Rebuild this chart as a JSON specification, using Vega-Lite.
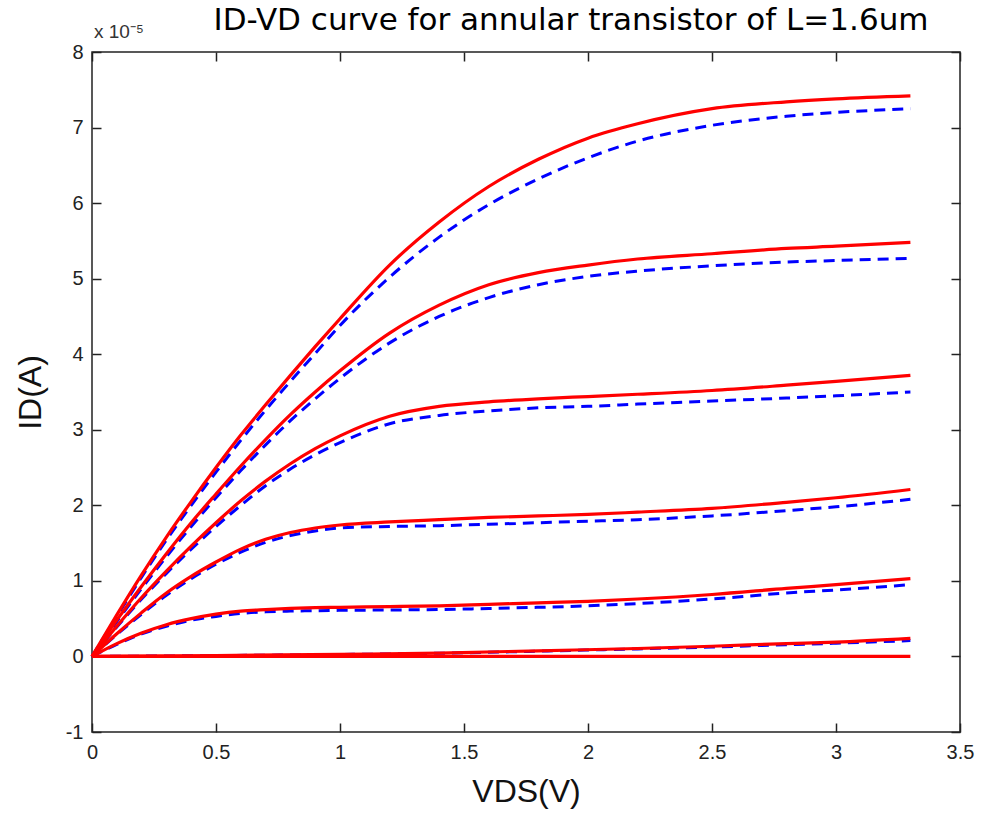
{
  "$schema": "https://vega.github.io/schema/vega-lite/v6.json",
  "width": 868,
  "height": 680,
  "autosize": "none",
  "padding": {"left": 92, "top": 52, "right": 22, "bottom": 84},
  "background": "white",
  "config": {
    "view": {"stroke": "#222", "strokeWidth": 1.5},
    "axis": {
      "domain": false,
      "grid": false,
      "tickColor": "#222",
      "tickWidth": 1.5,
      "tickSize": -9,
      "labelFont": "Liberation Sans",
      "labelFontSize": 20,
      "labelColor": "#222",
      "titleFont": "Liberation Sans",
      "titleFontSize": 32,
      "titleFontWeight": "normal",
      "titleColor": "#111",
      "labelExpr": "'' + datum.value"
    }
  },
  "title": {
    "text": "ID-VD curve for annular transistor of L=1.6um",
    "font": "DejaVu Sans",
    "fontSize": 31,
    "fontWeight": "normal",
    "color": "#000",
    "anchor": "middle",
    "frame": "group",
    "dx": 45,
    "baseline": "alphabetic",
    "offset": -38
  },
  "datasets": {
    "curves": [
      {"c":6,"s":"r","x":0,"y":0},{"c":6,"s":"r","x":0.1,"y":0.55},{"c":6,"s":"r","x":0.2,"y":1.08},{"c":6,"s":"r","x":0.3,"y":1.58},{"c":6,"s":"r","x":0.4,"y":2.05},{"c":6,"s":"r","x":0.5,"y":2.5},{"c":6,"s":"r","x":0.6,"y":2.93},{"c":6,"s":"r","x":0.7,"y":3.33},{"c":6,"s":"r","x":0.8,"y":3.72},{"c":6,"s":"r","x":0.9,"y":4.1},{"c":6,"s":"r","x":1.0,"y":4.47},{"c":6,"s":"r","x":1.2,"y":5.18},{"c":6,"s":"r","x":1.4,"y":5.75},{"c":6,"s":"r","x":1.6,"y":6.22},{"c":6,"s":"r","x":1.8,"y":6.58},{"c":6,"s":"r","x":2.0,"y":6.86},{"c":6,"s":"r","x":2.2,"y":7.05},{"c":6,"s":"r","x":2.5,"y":7.25},{"c":6,"s":"r","x":2.8,"y":7.34},{"c":6,"s":"r","x":3.0,"y":7.38},{"c":6,"s":"r","x":3.3,"y":7.42},
      {"c":6,"s":"b","x":0,"y":0},{"c":6,"s":"b","x":0.1,"y":0.53},{"c":6,"s":"b","x":0.2,"y":1.05},{"c":6,"s":"b","x":0.3,"y":1.54},{"c":6,"s":"b","x":0.4,"y":2.0},{"c":6,"s":"b","x":0.5,"y":2.44},{"c":6,"s":"b","x":0.6,"y":2.86},{"c":6,"s":"b","x":0.7,"y":3.26},{"c":6,"s":"b","x":0.8,"y":3.64},{"c":6,"s":"b","x":0.9,"y":4.01},{"c":6,"s":"b","x":1.0,"y":4.38},{"c":6,"s":"b","x":1.2,"y":5.02},{"c":6,"s":"b","x":1.4,"y":5.55},{"c":6,"s":"b","x":1.6,"y":5.98},{"c":6,"s":"b","x":1.8,"y":6.32},{"c":6,"s":"b","x":2.0,"y":6.6},{"c":6,"s":"b","x":2.2,"y":6.82},{"c":6,"s":"b","x":2.5,"y":7.03},{"c":6,"s":"b","x":2.8,"y":7.15},{"c":6,"s":"b","x":3.0,"y":7.2},{"c":6,"s":"b","x":3.3,"y":7.25},
      {"c":5,"s":"r","x":0,"y":0},{"c":5,"s":"r","x":0.1,"y":0.48},{"c":5,"s":"r","x":0.2,"y":0.93},{"c":5,"s":"r","x":0.3,"y":1.36},{"c":5,"s":"r","x":0.4,"y":1.77},{"c":5,"s":"r","x":0.5,"y":2.15},{"c":5,"s":"r","x":0.6,"y":2.52},{"c":5,"s":"r","x":0.7,"y":2.87},{"c":5,"s":"r","x":0.8,"y":3.2},{"c":5,"s":"r","x":0.9,"y":3.5},{"c":5,"s":"r","x":1.0,"y":3.78},{"c":5,"s":"r","x":1.2,"y":4.28},{"c":5,"s":"r","x":1.4,"y":4.65},{"c":5,"s":"r","x":1.6,"y":4.92},{"c":5,"s":"r","x":1.8,"y":5.08},{"c":5,"s":"r","x":2.0,"y":5.18},{"c":5,"s":"r","x":2.2,"y":5.26},{"c":5,"s":"r","x":2.5,"y":5.33},{"c":5,"s":"r","x":2.8,"y":5.4},{"c":5,"s":"r","x":3.0,"y":5.43},{"c":5,"s":"r","x":3.3,"y":5.48},
      {"c":5,"s":"b","x":0,"y":0},{"c":5,"s":"b","x":0.1,"y":0.46},{"c":5,"s":"b","x":0.2,"y":0.9},{"c":5,"s":"b","x":0.3,"y":1.32},{"c":5,"s":"b","x":0.4,"y":1.72},{"c":5,"s":"b","x":0.5,"y":2.1},{"c":5,"s":"b","x":0.6,"y":2.46},{"c":5,"s":"b","x":0.7,"y":2.8},{"c":5,"s":"b","x":0.8,"y":3.12},{"c":5,"s":"b","x":0.9,"y":3.41},{"c":5,"s":"b","x":1.0,"y":3.68},{"c":5,"s":"b","x":1.2,"y":4.15},{"c":5,"s":"b","x":1.4,"y":4.5},{"c":5,"s":"b","x":1.6,"y":4.75},{"c":5,"s":"b","x":1.8,"y":4.92},{"c":5,"s":"b","x":2.0,"y":5.03},{"c":5,"s":"b","x":2.2,"y":5.1},{"c":5,"s":"b","x":2.5,"y":5.17},{"c":5,"s":"b","x":2.8,"y":5.22},{"c":5,"s":"b","x":3.0,"y":5.24},{"c":5,"s":"b","x":3.3,"y":5.27},
      {"c":4,"s":"r","x":0,"y":0},{"c":4,"s":"r","x":0.1,"y":0.4},{"c":4,"s":"r","x":0.2,"y":0.78},{"c":4,"s":"r","x":0.3,"y":1.13},{"c":4,"s":"r","x":0.4,"y":1.46},{"c":4,"s":"r","x":0.5,"y":1.77},{"c":4,"s":"r","x":0.6,"y":2.06},{"c":4,"s":"r","x":0.7,"y":2.32},{"c":4,"s":"r","x":0.8,"y":2.55},{"c":4,"s":"r","x":0.9,"y":2.75},{"c":4,"s":"r","x":1.0,"y":2.92},{"c":4,"s":"r","x":1.2,"y":3.18},{"c":4,"s":"r","x":1.4,"y":3.31},{"c":4,"s":"r","x":1.6,"y":3.37},{"c":4,"s":"r","x":1.8,"y":3.41},{"c":4,"s":"r","x":2.0,"y":3.44},{"c":4,"s":"r","x":2.2,"y":3.47},{"c":4,"s":"r","x":2.5,"y":3.52},{"c":4,"s":"r","x":2.8,"y":3.59},{"c":4,"s":"r","x":3.0,"y":3.64},{"c":4,"s":"r","x":3.3,"y":3.72},
      {"c":4,"s":"b","x":0,"y":0},{"c":4,"s":"b","x":0.1,"y":0.39},{"c":4,"s":"b","x":0.2,"y":0.76},{"c":4,"s":"b","x":0.3,"y":1.1},{"c":4,"s":"b","x":0.4,"y":1.42},{"c":4,"s":"b","x":0.5,"y":1.72},{"c":4,"s":"b","x":0.6,"y":2.0},{"c":4,"s":"b","x":0.7,"y":2.26},{"c":4,"s":"b","x":0.8,"y":2.48},{"c":4,"s":"b","x":0.9,"y":2.67},{"c":4,"s":"b","x":1.0,"y":2.83},{"c":4,"s":"b","x":1.2,"y":3.08},{"c":4,"s":"b","x":1.4,"y":3.19},{"c":4,"s":"b","x":1.6,"y":3.25},{"c":4,"s":"b","x":1.8,"y":3.29},{"c":4,"s":"b","x":2.0,"y":3.31},{"c":4,"s":"b","x":2.2,"y":3.34},{"c":4,"s":"b","x":2.5,"y":3.38},{"c":4,"s":"b","x":2.8,"y":3.42},{"c":4,"s":"b","x":3.0,"y":3.45},{"c":4,"s":"b","x":3.3,"y":3.5},
      {"c":3,"s":"r","x":0,"y":0},{"c":3,"s":"r","x":0.1,"y":0.3},{"c":3,"s":"r","x":0.2,"y":0.58},{"c":3,"s":"r","x":0.3,"y":0.84},{"c":3,"s":"r","x":0.4,"y":1.06},{"c":3,"s":"r","x":0.5,"y":1.25},{"c":3,"s":"r","x":0.6,"y":1.42},{"c":3,"s":"r","x":0.7,"y":1.55},{"c":3,"s":"r","x":0.8,"y":1.64},{"c":3,"s":"r","x":0.9,"y":1.7},{"c":3,"s":"r","x":1.0,"y":1.74},{"c":3,"s":"r","x":1.2,"y":1.78},{"c":3,"s":"r","x":1.4,"y":1.81},{"c":3,"s":"r","x":1.6,"y":1.84},{"c":3,"s":"r","x":1.8,"y":1.86},{"c":3,"s":"r","x":2.0,"y":1.88},{"c":3,"s":"r","x":2.2,"y":1.91},{"c":3,"s":"r","x":2.5,"y":1.96},{"c":3,"s":"r","x":2.8,"y":2.04},{"c":3,"s":"r","x":3.0,"y":2.1},{"c":3,"s":"r","x":3.3,"y":2.21},
      {"c":3,"s":"b","x":0,"y":0},{"c":3,"s":"b","x":0.1,"y":0.29},{"c":3,"s":"b","x":0.2,"y":0.56},{"c":3,"s":"b","x":0.3,"y":0.81},{"c":3,"s":"b","x":0.4,"y":1.03},{"c":3,"s":"b","x":0.5,"y":1.22},{"c":3,"s":"b","x":0.6,"y":1.38},{"c":3,"s":"b","x":0.7,"y":1.51},{"c":3,"s":"b","x":0.8,"y":1.6},{"c":3,"s":"b","x":0.9,"y":1.66},{"c":3,"s":"b","x":1.0,"y":1.7},{"c":3,"s":"b","x":1.2,"y":1.72},{"c":3,"s":"b","x":1.4,"y":1.73},{"c":3,"s":"b","x":1.6,"y":1.75},{"c":3,"s":"b","x":1.8,"y":1.77},{"c":3,"s":"b","x":2.0,"y":1.79},{"c":3,"s":"b","x":2.2,"y":1.81},{"c":3,"s":"b","x":2.5,"y":1.86},{"c":3,"s":"b","x":2.8,"y":1.93},{"c":3,"s":"b","x":3.0,"y":1.98},{"c":3,"s":"b","x":3.3,"y":2.08},
      {"c":2,"s":"r","x":0,"y":0},{"c":2,"s":"r","x":0.1,"y":0.17},{"c":2,"s":"r","x":0.2,"y":0.31},{"c":2,"s":"r","x":0.3,"y":0.42},{"c":2,"s":"r","x":0.4,"y":0.5},{"c":2,"s":"r","x":0.5,"y":0.56},{"c":2,"s":"r","x":0.6,"y":0.6},{"c":2,"s":"r","x":0.7,"y":0.62},{"c":2,"s":"r","x":0.8,"y":0.635},{"c":2,"s":"r","x":0.9,"y":0.645},{"c":2,"s":"r","x":1.0,"y":0.65},{"c":2,"s":"r","x":1.2,"y":0.66},{"c":2,"s":"r","x":1.4,"y":0.67},{"c":2,"s":"r","x":1.6,"y":0.69},{"c":2,"s":"r","x":1.8,"y":0.71},{"c":2,"s":"r","x":2.0,"y":0.73},{"c":2,"s":"r","x":2.2,"y":0.76},{"c":2,"s":"r","x":2.5,"y":0.82},{"c":2,"s":"r","x":2.8,"y":0.9},{"c":2,"s":"r","x":3.0,"y":0.95},{"c":2,"s":"r","x":3.3,"y":1.03},
      {"c":2,"s":"b","x":0,"y":0},{"c":2,"s":"b","x":0.1,"y":0.16},{"c":2,"s":"b","x":0.2,"y":0.3},{"c":2,"s":"b","x":0.3,"y":0.4},{"c":2,"s":"b","x":0.4,"y":0.48},{"c":2,"s":"b","x":0.5,"y":0.53},{"c":2,"s":"b","x":0.6,"y":0.57},{"c":2,"s":"b","x":0.7,"y":0.59},{"c":2,"s":"b","x":0.8,"y":0.6},{"c":2,"s":"b","x":0.9,"y":0.605},{"c":2,"s":"b","x":1.0,"y":0.61},{"c":2,"s":"b","x":1.2,"y":0.615},{"c":2,"s":"b","x":1.4,"y":0.62},{"c":2,"s":"b","x":1.6,"y":0.635},{"c":2,"s":"b","x":1.8,"y":0.65},{"c":2,"s":"b","x":2.0,"y":0.67},{"c":2,"s":"b","x":2.2,"y":0.7},{"c":2,"s":"b","x":2.5,"y":0.76},{"c":2,"s":"b","x":2.8,"y":0.84},{"c":2,"s":"b","x":3.0,"y":0.88},{"c":2,"s":"b","x":3.3,"y":0.95},
      {"c":1,"s":"r","x":0,"y":0},{"c":1,"s":"r","x":0.5,"y":0.012},{"c":1,"s":"r","x":1.0,"y":0.028},{"c":1,"s":"r","x":1.4,"y":0.045},{"c":1,"s":"r","x":1.8,"y":0.075},{"c":1,"s":"r","x":2.2,"y":0.105},{"c":1,"s":"r","x":2.5,"y":0.135},{"c":1,"s":"r","x":2.8,"y":0.17},{"c":1,"s":"r","x":3.0,"y":0.19},{"c":1,"s":"r","x":3.3,"y":0.24},
      {"c":1,"s":"b","x":0,"y":0},{"c":1,"s":"b","x":0.5,"y":0.011},{"c":1,"s":"b","x":1.0,"y":0.026},{"c":1,"s":"b","x":1.4,"y":0.042},{"c":1,"s":"b","x":1.8,"y":0.07},{"c":1,"s":"b","x":2.2,"y":0.1},{"c":1,"s":"b","x":2.5,"y":0.125},{"c":1,"s":"b","x":2.8,"y":0.155},{"c":1,"s":"b","x":3.0,"y":0.175},{"c":1,"s":"b","x":3.3,"y":0.21},
      {"c":0,"s":"r","x":0,"y":0},{"c":0,"s":"r","x":3.3,"y":0}
    ],
    "note": [{"x": 0, "y": 8, "t": "x 10⁻⁵"}]
  },
  "data": {"name": "curves"},
  "resolve": {"axis": {"x": "independent", "y": "independent"}},
  "layer": [
    {
      "transform": [{"filter": "datum.s === 'b'"}],
      "mark": {"type": "line", "color": "#0000ff", "strokeWidth": 3, "strokeDash": [11, 7], "interpolate": "monotone"},
      "encoding": {
        "x": {"field": "x", "type": "quantitative", "scale": {"domain": [0, 3.5], "nice": false},
              "axis": {"orient": "bottom", "values": [0, 0.5, 1, 1.5, 2, 2.5, 3, 3.5], "labelPadding": 19, "title": "VDS(V)", "titlePadding": 14, "labelFlush": false}},
        "y": {"field": "y", "type": "quantitative", "scale": {"domain": [-1, 8], "nice": false, "zero": false},
              "axis": {"orient": "left", "values": [-1, 0, 1, 2, 3, 4, 5, 6, 7, 8], "labelPadding": 18, "title": "ID(A)", "titlePadding": 18}},
        "detail": {"field": "c", "type": "nominal"}
      }
    },
    {
      "transform": [{"filter": "datum.s === 'r'"}],
      "mark": {"type": "line", "color": "#ff0000", "strokeWidth": 3.2, "interpolate": "monotone"},
      "encoding": {
        "x": {"field": "x", "type": "quantitative", "axis": {"orient": "top", "values": [0, 0.5, 1, 1.5, 2, 2.5, 3, 3.5], "labels": false, "title": null, "minExtent": 0, "maxExtent": 0}},
        "y": {"field": "y", "type": "quantitative", "axis": {"orient": "right", "values": [-1, 0, 1, 2, 3, 4, 5, 6, 7, 8], "labels": false, "title": null, "minExtent": 0, "maxExtent": 0}},
        "detail": {"field": "c", "type": "nominal"}
      }
    },
    {
      "data": {"name": "note"},
      "mark": {"type": "text", "align": "left", "baseline": "alphabetic", "dx": 2, "dy": -14, "font": "Liberation Sans", "fontSize": 19, "color": "#333"},
      "encoding": {
        "x": {"field": "x", "type": "quantitative", "axis": null},
        "y": {"field": "y", "type": "quantitative", "axis": null},
        "text": {"field": "t"}
      }
    }
  ]
}
